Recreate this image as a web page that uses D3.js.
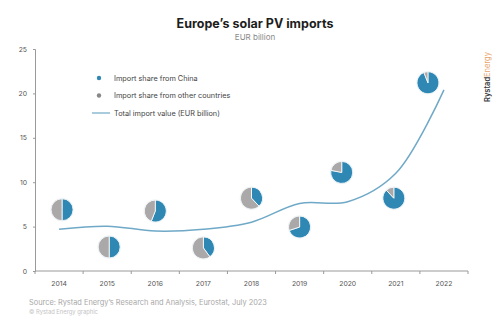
<!DOCTYPE html>
<html>
<head>
<meta charset="utf-8">
<script src="https://cdn.jsdelivr.net/npm/d3@7"></script>
<style>
  body { margin: 0; background: #fff; }
  svg { display: block; font-family: Inter, 'Open Sans', sans-serif; }
</style>
</head>
<body>
<svg id="chart" width="500" height="321"></svg>
<script>
// ── Data ──────────────────────────────────────────────────────────────────
const years = ['2014', '2015', '2016', '2017', '2018', '2019', '2020', '2021', '2022'];
const totalImports = [4.7, 5.05, 4.5, 4.7, 5.5, 7.6, 7.8, 11.0, 20.4];   // EUR billion
const chinaShare = [0.50, 0.50, 0.56, 0.40, 0.38, 0.70, 0.78, 0.88, 0.94];
const pieLevel = [6.9, 2.7, 6.75, 2.6, 8.2, 4.95, 11.1, 8.2, 21.2];      // where each pie sits on the y scale
const yTicks = [0, 5, 10, 15, 20, 25];

const blue = '#2f87b3';
const grey = '#aaa8a8';
const lineCol = '#6fa9c7';
const axisCol = '#9a9a9a';

const svg = d3.select('#chart');
const margin = { top: 49, left: 35, right: 32, bottom: 50 };
const W = 500, H = 321;

const x = d3.scaleBand().domain(years).range([margin.left, W - margin.right]);
const y = d3.scaleLinear().domain([0, 25]).range([H - margin.bottom, margin.top]);

// ── Title ─────────────────────────────────────────────────────────────────
svg.append('text')
  .attr('x', 255).attr('y', 28)
  .attr('text-anchor', 'middle')
  .attr('font-size', '12.5px').attr('font-weight', 700)
  .attr('fill', '#1d1d1d')
  .text('Europe\u2019s solar PV imports');

svg.append('text')
  .attr('x', 255).attr('y', 40)
  .attr('text-anchor', 'middle')
  .attr('font-size', '8px')
  .attr('fill', '#8a8a8a')
  .text('EUR billion');

// ── Axes ──────────────────────────────────────────────────────────────────
const yAxis = svg.append('g')
  .attr('transform', `translate(${margin.left},0)`)
  .call(d3.axisLeft(y).tickValues(yTicks).tickSize(2).tickPadding(6));
yAxis.select('.domain').attr('stroke', axisCol);
yAxis.selectAll('line').attr('stroke', axisCol);
yAxis.selectAll('text').attr('font-size', '6.8px').attr('fill', '#555').attr('font-family', 'Inter, sans-serif');

const xAxisG = svg.append('g').attr('transform', `translate(0,${y(0)})`);
xAxisG.append('line')
  .attr('x1', margin.left).attr('x2', W - margin.right)
  .attr('stroke', axisCol);
const bounds = years.map(d => x(d)).concat([x(years[years.length - 1]) + x.bandwidth()]);
xAxisG.selectAll('.tk').data(bounds).join('line')
  .attr('x1', d => d).attr('x2', d => d)
  .attr('y1', 0).attr('y2', 3)
  .attr('stroke', axisCol);
xAxisG.selectAll('.lbl').data(years).join('text')
  .attr('x', d => x(d) + x.bandwidth() / 2)
  .attr('y', 15)
  .attr('text-anchor', 'middle')
  .attr('font-size', '6.8px')
  .attr('fill', '#555')
  .text(d => d);

// ── Total import line ─────────────────────────────────────────────────────
const line = d3.line()
  .x((d, i) => x(years[i]) + x.bandwidth() / 2)
  .y(d => y(d))
  .curve(d3.curveCatmullRom.alpha(0.5));

svg.append('path')
  .datum(totalImports)
  .attr('d', line)
  .attr('fill', 'none')
  .attr('stroke', lineCol)
  .attr('stroke-width', 1.5);

// ── Pies ──────────────────────────────────────────────────────────────────
const pieNudge = { '2014': 3, '2015': 2, '2020': -6, '2021': -2, '2022': -16 };
const r = 11;
const pie = d3.pie().sort(null).value(d => d);
const arc = d3.arc().innerRadius(0).outerRadius(r);

years.forEach((yr, i) => {
  const cx = x(yr) + x.bandwidth() / 2 + (pieNudge[yr] || 0);
  const cy = y(pieLevel[i]);
  const g = svg.append('g').attr('transform', `translate(${cx},${cy})`);
  g.selectAll('path')
    .data(pie([chinaShare[i], 1 - chinaShare[i]]))
    .join('path')
    .attr('d', arc)
    .attr('fill', (d, j) => j === 0 ? blue : grey)
    .attr('stroke', '#fff')
    .attr('stroke-width', 0.8);
  g.append('circle').attr('r', r + 0.4).attr('fill', 'none').attr('stroke', '#e6eef2').attr('stroke-width', 0.6);
});

// ── Legend ────────────────────────────────────────────────────────────────
const legend = svg.append('g').attr('font-size', '7.3px').attr('fill', '#444');
legend.append('circle').attr('cx', 99).attr('cy', 78).attr('r', 2.2).attr('fill', blue);
legend.append('text').attr('x', 114).attr('y', 80.5).text('Import share from China');
legend.append('circle').attr('cx', 99).attr('cy', 95.5).attr('r', 2.2).attr('fill', '#888');
legend.append('text').attr('x', 114).attr('y', 98).text('Import share from other countries');
legend.append('line').attr('x1', 92).attr('x2', 110).attr('y1', 113).attr('y2', 113)
  .attr('stroke', lineCol).attr('stroke-width', 1.2);
legend.append('text').attr('x', 114).attr('y', 115.5).text('Total import value (EUR billion)');

// ── Source + logo ─────────────────────────────────────────────────────────
svg.append('text')
  .attr('x', 29).attr('y', 305)
  .attr('font-size', '7.4px').attr('fill', '#a8a8a8')
  .text('Source: Rystad Energy\u2019s Research and Analysis, Eurostat, July 2023');
svg.append('text')
  .attr('x', 29).attr('y', 314)
  .attr('font-size', '5.8px').attr('fill', '#c4c4c4')
  .text('\u00a9 Rystad Energy graphic');

const logo = svg.append('text')
  .attr('transform', 'translate(490,102) rotate(-90)')
  .attr('font-size', '7.5px').attr('font-weight', 600);
logo.append('tspan').attr('fill', '#3a3a3a').text('Rystad');
logo.append('tspan').attr('fill', '#e8a46a').attr('font-weight', 400).text('Energy');
</script>
</body>
</html>
